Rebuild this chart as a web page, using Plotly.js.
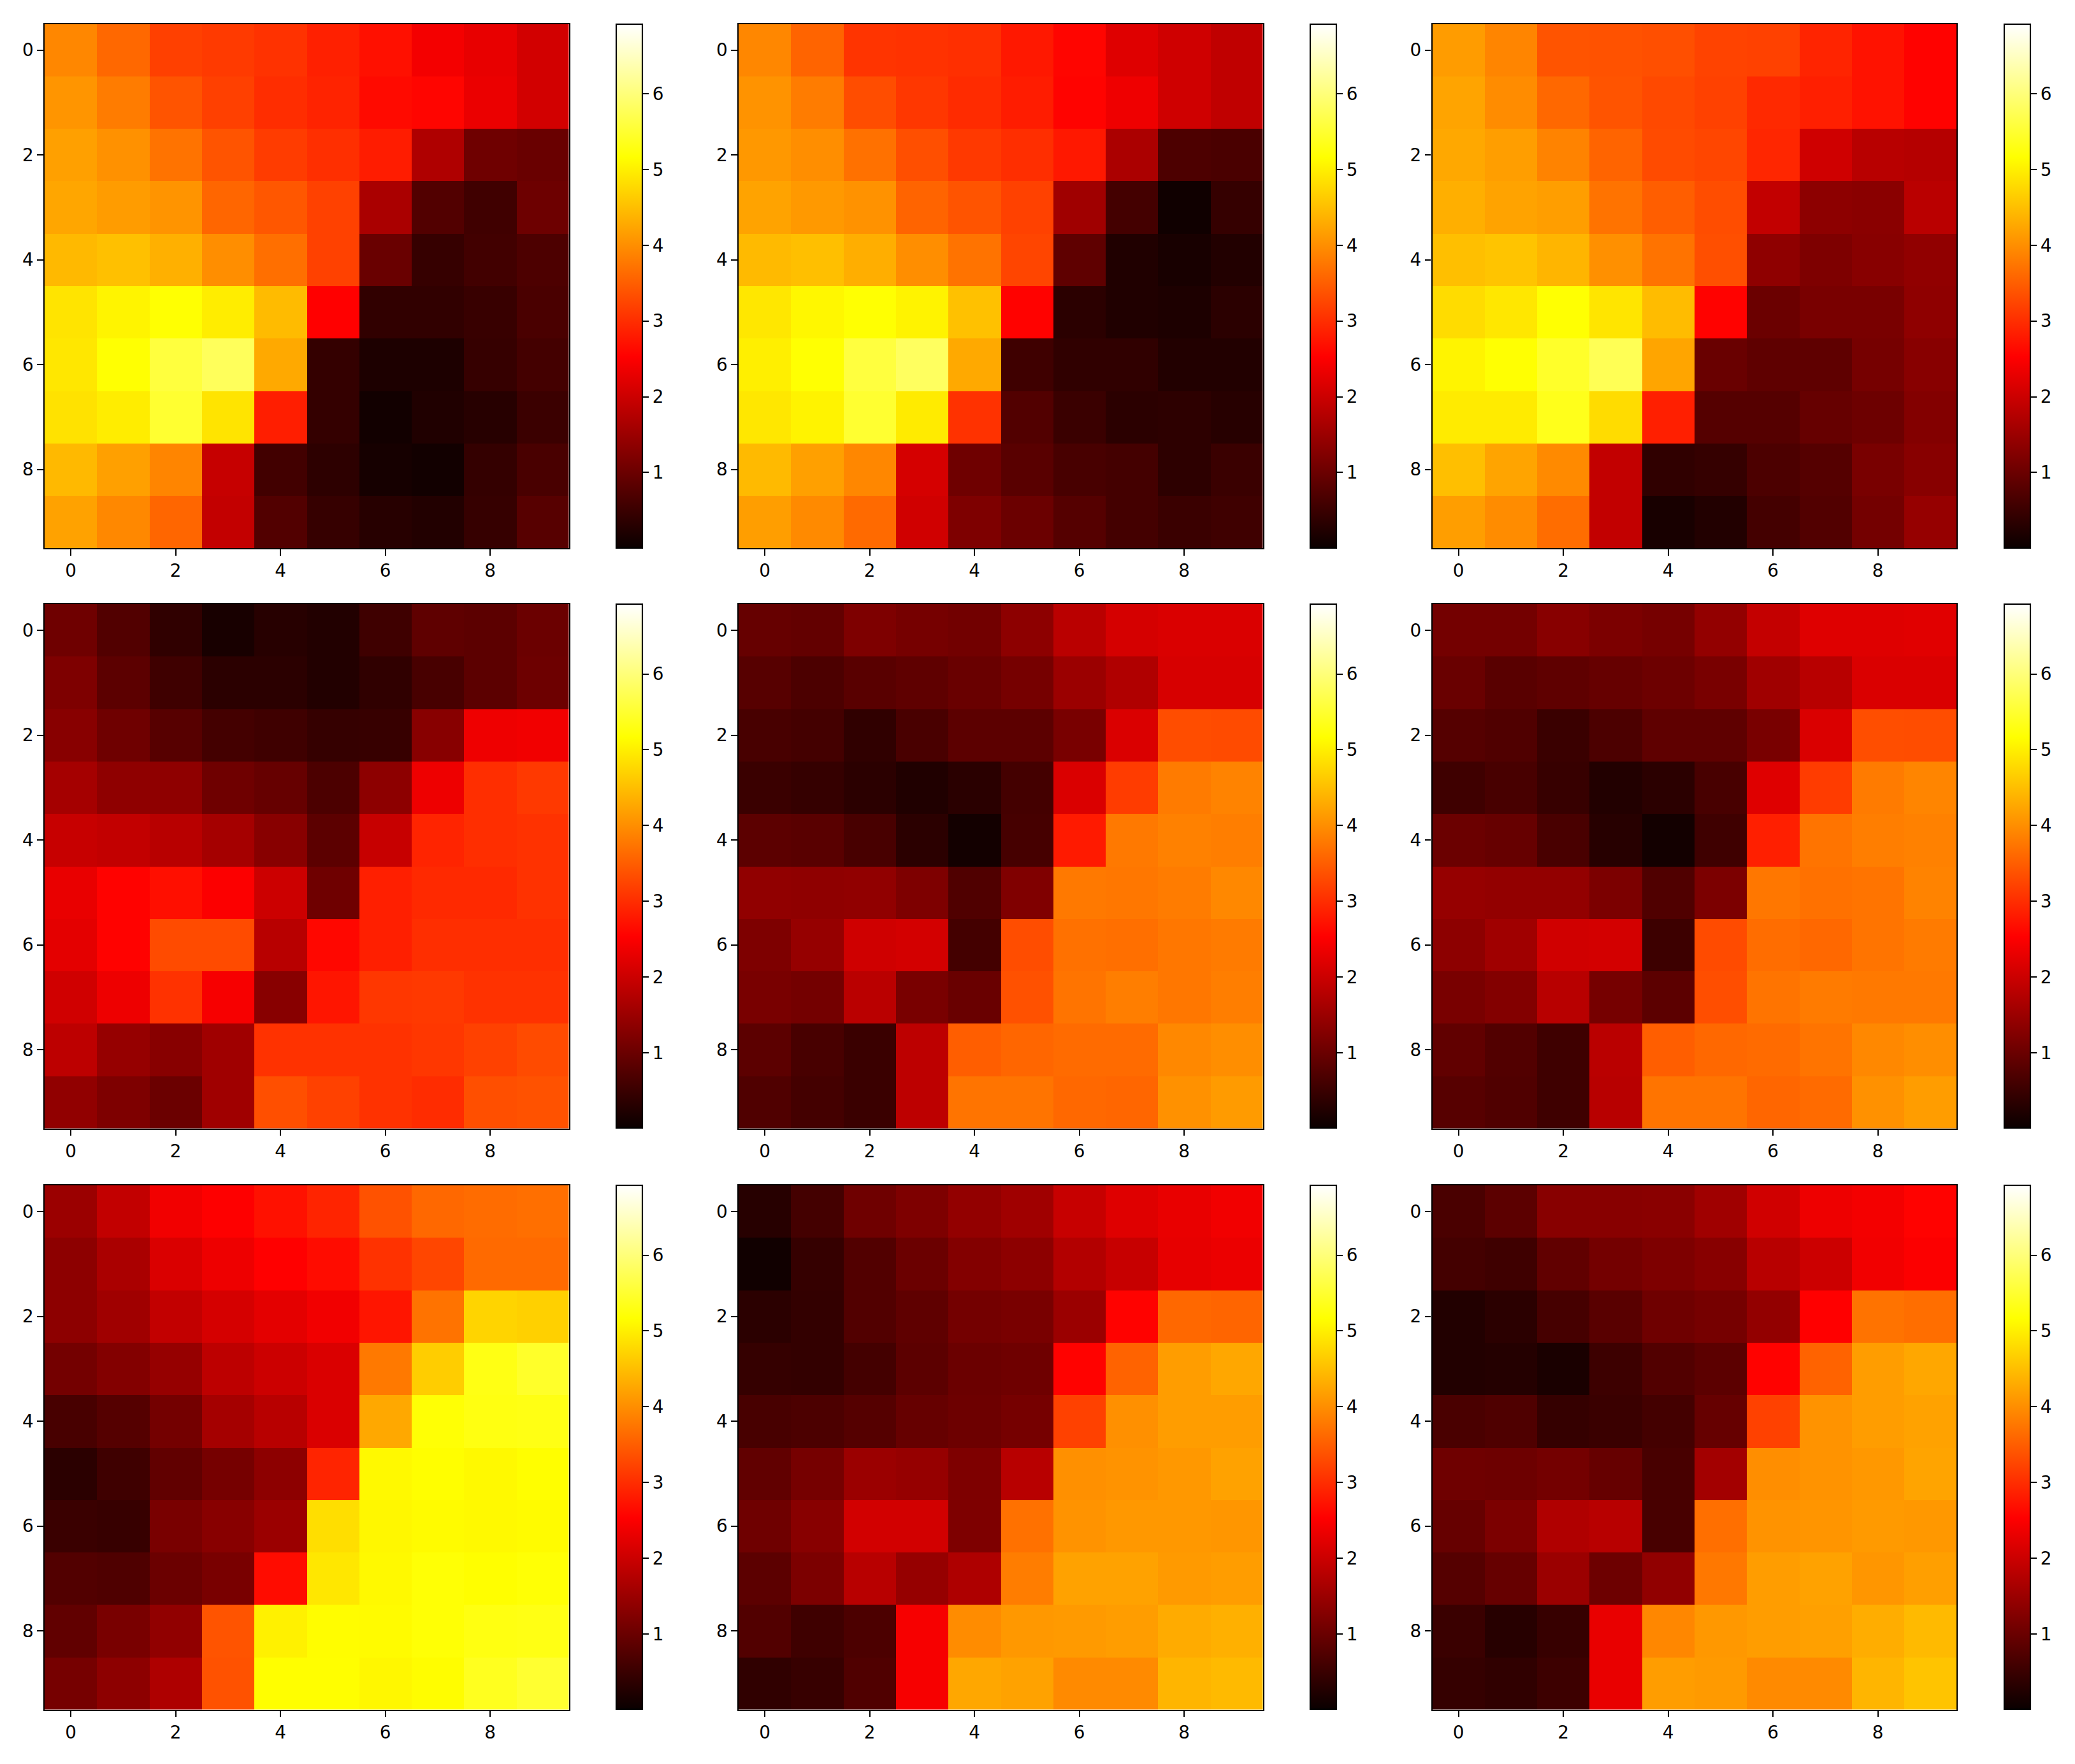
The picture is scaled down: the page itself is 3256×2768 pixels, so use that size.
<!DOCTYPE html>
<html>
<head>
<meta charset="utf-8">
<script src="https://cdn.plot.ly/plotly-3.0.1.min.js"></script>
<style>
  html, body { margin: 0; padding: 0; background: #fff; }
  #chart { width: 3256px; height: 2768px; }
</style>
</head>
<body>
<div id="chart"></div>
<script>
const panel1 = [
  [3.92,3.60,3.19,3.13,3.05,2.86,2.69,2.42,2.29,2.07],
  [4.07,3.81,3.40,3.19,2.99,2.89,2.63,2.58,2.32,2.07],
  [4.18,4.03,3.72,3.40,3.15,3.02,2.82,1.71,1.05,0.98],
  [4.24,4.14,4.06,3.58,3.43,3.20,1.65,0.75,0.56,1.03],
  [4.44,4.51,4.35,4.00,3.68,3.20,0.98,0.46,0.58,0.70],
  [4.88,5.05,5.18,4.98,4.46,2.53,0.41,0.41,0.48,0.66],
  [4.92,5.18,5.59,5.79,4.28,0.44,0.20,0.20,0.46,0.60],
  [4.86,4.98,5.50,4.88,2.84,0.44,0.09,0.23,0.30,0.51],
  [4.44,4.18,3.90,1.94,0.58,0.37,0.13,0.09,0.44,0.65],
  [4.20,3.93,3.58,1.91,0.75,0.46,0.30,0.25,0.46,0.80]
];
const panel2 = [
  [3.92,3.56,3.07,3.05,3.02,2.78,2.58,2.20,2.04,1.88],
  [4.05,3.81,3.33,3.10,2.97,2.82,2.56,2.36,2.04,1.88],
  [4.10,4.00,3.70,3.35,3.12,3.00,2.78,1.66,0.70,0.66],
  [4.21,4.11,4.04,3.56,3.40,3.20,1.55,0.60,0.07,0.45],
  [4.45,4.50,4.33,4.00,3.72,3.24,0.88,0.23,0.15,0.25],
  [4.92,5.08,5.18,5.04,4.52,2.55,0.35,0.23,0.20,0.35],
  [5.00,5.18,5.60,5.82,4.28,0.55,0.40,0.40,0.25,0.25],
  [4.92,5.04,5.50,4.96,3.05,0.75,0.50,0.35,0.37,0.30],
  [4.45,4.18,3.92,2.10,1.05,0.82,0.64,0.60,0.37,0.50],
  [4.16,3.96,3.62,2.05,1.20,1.00,0.78,0.60,0.50,0.55]
];
const panel3 = [
  [4.14,3.90,3.40,3.38,3.35,3.22,3.20,2.90,2.72,2.55],
  [4.22,3.98,3.60,3.40,3.28,3.20,2.95,2.85,2.72,2.55],
  [4.26,4.16,3.88,3.56,3.30,3.25,2.92,2.04,1.80,1.77],
  [4.34,4.21,4.16,3.72,3.50,3.33,1.90,1.35,1.32,1.82],
  [4.50,4.55,4.40,4.02,3.72,3.35,1.38,1.20,1.30,1.40],
  [4.80,4.92,5.18,4.90,4.47,2.55,1.00,1.15,1.15,1.38],
  [5.05,5.18,5.45,5.75,4.23,0.98,0.88,0.88,1.12,1.30],
  [4.96,4.96,5.35,4.80,2.85,0.78,0.78,0.95,1.02,1.25],
  [4.50,4.22,3.96,1.90,0.40,0.45,0.68,0.78,1.15,1.30],
  [4.16,3.98,3.66,1.90,0.15,0.25,0.60,0.75,1.10,1.45]
];
const panel4 = [
  [1.05,0.75,0.40,0.15,0.30,0.25,0.55,0.88,0.85,1.00],
  [1.20,0.85,0.55,0.35,0.35,0.25,0.40,0.64,0.85,1.02],
  [1.30,1.05,0.80,0.60,0.55,0.45,0.47,1.30,2.36,2.40],
  [1.60,1.38,1.38,1.05,0.95,0.68,1.35,2.35,3.00,3.12],
  [1.95,1.90,1.80,1.60,1.30,0.85,1.95,2.90,3.00,3.05],
  [2.30,2.55,2.68,2.50,2.00,1.05,2.85,2.95,2.95,3.05],
  [2.25,2.55,3.30,3.30,1.80,2.60,2.85,3.00,3.00,3.00],
  [2.05,2.35,3.05,2.45,1.30,2.75,3.10,3.12,3.05,3.05],
  [1.85,1.45,1.30,1.55,3.05,3.05,3.05,3.10,3.20,3.30],
  [1.40,1.20,1.00,1.55,3.35,3.20,3.05,2.98,3.35,3.38]
];
const panel5 = [
  [0.95,0.92,1.20,1.12,1.08,1.35,1.82,2.10,2.15,2.15],
  [0.80,0.68,0.82,0.88,0.98,1.12,1.50,1.72,2.12,2.12],
  [0.64,0.60,0.40,0.65,0.85,0.85,1.15,2.15,3.32,3.30],
  [0.50,0.45,0.35,0.23,0.33,0.60,2.15,3.15,3.80,3.88],
  [0.85,0.82,0.64,0.35,0.10,0.62,2.80,3.78,3.86,3.83],
  [1.40,1.38,1.40,1.20,0.73,1.22,3.78,3.76,3.81,3.93],
  [1.20,1.45,2.04,2.08,0.60,3.32,3.70,3.68,3.76,3.80],
  [1.15,1.10,1.82,1.15,0.98,3.37,3.73,3.83,3.76,3.83],
  [0.85,0.64,0.50,1.85,3.50,3.58,3.63,3.63,3.93,4.00],
  [0.73,0.60,0.50,1.85,3.73,3.73,3.60,3.58,4.03,4.13]
];
const panel6 = [
  [1.10,1.10,1.30,1.18,1.12,1.42,1.92,2.20,2.20,2.22],
  [0.98,0.82,0.88,0.95,1.02,1.15,1.55,1.80,2.15,2.15],
  [0.78,0.73,0.50,0.68,0.88,0.88,1.15,2.15,3.34,3.32],
  [0.55,0.64,0.47,0.25,0.35,0.64,2.20,3.15,3.80,3.90],
  [1.00,0.95,0.65,0.30,0.10,0.55,2.85,3.73,3.83,3.86],
  [1.45,1.42,1.42,1.18,0.73,1.18,3.76,3.70,3.73,3.88],
  [1.35,1.55,2.05,2.08,0.53,3.30,3.66,3.60,3.73,3.80],
  [1.15,1.25,1.80,1.12,0.85,3.34,3.73,3.80,3.78,3.78],
  [0.90,0.75,0.55,1.82,3.50,3.60,3.63,3.73,3.93,4.00],
  [0.80,0.73,0.55,1.80,3.73,3.73,3.58,3.63,4.03,4.15]
];
const panel7 = [
  [1.50,1.90,2.40,2.52,2.70,2.90,3.38,3.60,3.65,3.68],
  [1.35,1.65,2.15,2.35,2.53,2.65,3.05,3.25,3.62,3.62],
  [1.35,1.55,1.90,2.10,2.25,2.40,2.75,3.72,4.72,4.68],
  [1.10,1.25,1.45,1.85,2.00,2.15,3.78,4.65,5.30,5.45],
  [0.64,0.78,1.10,1.60,1.80,2.15,4.26,5.20,5.28,5.30],
  [0.35,0.55,0.90,1.12,1.35,2.90,5.10,5.15,5.10,5.15],
  [0.50,0.47,1.15,1.30,1.50,4.82,5.08,5.12,5.10,5.12],
  [0.75,0.72,1.00,1.15,2.65,4.92,5.10,5.20,5.15,5.20],
  [0.90,1.15,1.40,3.40,5.02,5.14,5.12,5.20,5.28,5.30],
  [1.12,1.35,1.70,3.38,5.15,5.15,5.08,5.14,5.38,5.50]
];
const panel8 = [
  [0.30,0.60,1.05,1.20,1.42,1.55,1.95,2.20,2.30,2.40],
  [0.08,0.45,0.75,1.00,1.25,1.35,1.75,1.95,2.28,2.33],
  [0.35,0.43,0.75,0.88,1.10,1.15,1.50,2.55,3.60,3.57],
  [0.45,0.43,0.60,0.85,1.00,1.05,2.55,3.55,4.15,4.25],
  [0.64,0.68,0.78,0.95,1.02,1.12,3.20,4.02,4.15,4.15],
  [0.90,1.12,1.50,1.45,1.20,1.80,4.02,4.05,4.10,4.20],
  [1.05,1.30,2.07,2.07,1.20,3.70,4.05,4.10,4.10,4.08],
  [0.85,1.18,1.80,1.45,1.70,3.82,4.20,4.20,4.12,4.15],
  [0.75,0.55,0.68,2.45,3.98,4.10,4.12,4.15,4.30,4.35],
  [0.40,0.47,0.73,2.45,4.25,4.20,3.95,3.95,4.40,4.45]
];
const panel9 = [
  [0.66,0.85,1.30,1.30,1.32,1.55,2.05,2.35,2.42,2.55],
  [0.60,0.55,0.90,1.10,1.20,1.30,1.80,2.00,2.40,2.50],
  [0.25,0.35,0.62,0.82,1.05,1.12,1.42,2.53,3.72,3.67],
  [0.25,0.27,0.17,0.53,0.75,0.85,2.55,3.55,4.15,4.25],
  [0.66,0.72,0.45,0.50,0.60,0.95,3.20,4.05,4.15,4.20],
  [1.05,1.02,1.10,0.95,0.64,1.58,4.00,4.05,4.10,4.22],
  [0.95,1.18,1.72,1.80,0.64,3.68,4.05,4.07,4.12,4.10],
  [0.78,0.95,1.50,1.02,1.40,3.77,4.15,4.20,4.08,4.17],
  [0.50,0.30,0.47,2.30,3.92,4.10,4.15,4.18,4.32,4.45],
  [0.45,0.40,0.53,2.30,4.15,4.12,3.95,3.95,4.40,4.55]
];
const panels = [panel1, panel2, panel3, panel4, panel5, panel6, panel7, panel8, panel9];

const axisTicks = [0, 2, 4, 6, 8];
const colorbarTicks = [1, 2, 3, 4, 5, 6];
const zMin = 0.005;
const zMax = 6.92;

// matplotlib "hot"
const hotScale = [
  [0, "rgb(10,0,0)"],
  [0.365079, "rgb(255,0,0)"],
  [0.746032, "rgb(255,255,0)"],
  [1, "rgb(255,255,255)"]
];

// pixel boxes of the page
const W = 3256, H = 2768;
const colLeft = [70, 1159, 2247.5];
const rowTop = [37.5, 948, 1860];
const axSize = 822.5;
const barLeft = [967, 2056, 3145];
const barWidth = 41;

const tickFont = { family: "DejaVu Sans, sans-serif", size: 27.8, color: "#000" };

const traces = [];
const layout = {
  width: W,
  height: H,
  margin: { l: 0, r: 0, t: 0, b: 0 },
  paper_bgcolor: "#fff",
  plot_bgcolor: "#fff",
  showlegend: false
};

panels.forEach((z, i) => {
  const row = Math.floor(i / 3);
  const col = i % 3;
  const n = i + 1;
  const left = colLeft[col];
  const top = rowTop[row];

  traces.push({
    type: "heatmap",
    z: z,
    xaxis: "x" + n,
    yaxis: "y" + n,
    colorscale: hotScale,
    zmin: zMin,
    zmax: zMax,
    colorbar: {
      x: barLeft[col] / W,
      xanchor: "left",
      xpad: 0,
      ypad: 0,
      y: 1 - (top + axSize / 2) / H,
      yanchor: "middle",
      len: axSize / H,
      lenmode: "fraction",
      thickness: barWidth,
      thicknessmode: "pixels",
      outlinewidth: 2.2,
      outlinecolor: "#000",
      tickmode: "array",
      tickvals: colorbarTicks,
      ticktext: colorbarTicks.map(String),
      ticks: "outside",
      ticklen: 9.7,
      tickwidth: 2.2,
      tickcolor: "#000",
      tickfont: tickFont
    }
  });

  const common = {
    showgrid: false,
    zeroline: false,
    showline: true,
    mirror: true,
    linecolor: "#000",
    linewidth: 2.2,
    ticks: "outside",
    ticklen: 9.7,
    tickwidth: 2.2,
    tickcolor: "#000",
    tickfont: tickFont,
    tickmode: "array",
    tickvals: axisTicks,
    ticktext: axisTicks.map(String)
  };
  layout["xaxis" + n] = Object.assign({}, common, {
    anchor: "y" + n,
    domain: [left / W, (left + axSize) / W],
    range: [-0.5, 9.5]
  });
  layout["yaxis" + n] = Object.assign({}, common, {
    anchor: "x" + n,
    domain: [1 - (top + axSize) / H, 1 - top / H],
    range: [9.5, -0.5]
  });
});

Plotly.newPlot("chart", traces, layout, { displayModeBar: false, responsive: false });
</script>
</body>
</html>
